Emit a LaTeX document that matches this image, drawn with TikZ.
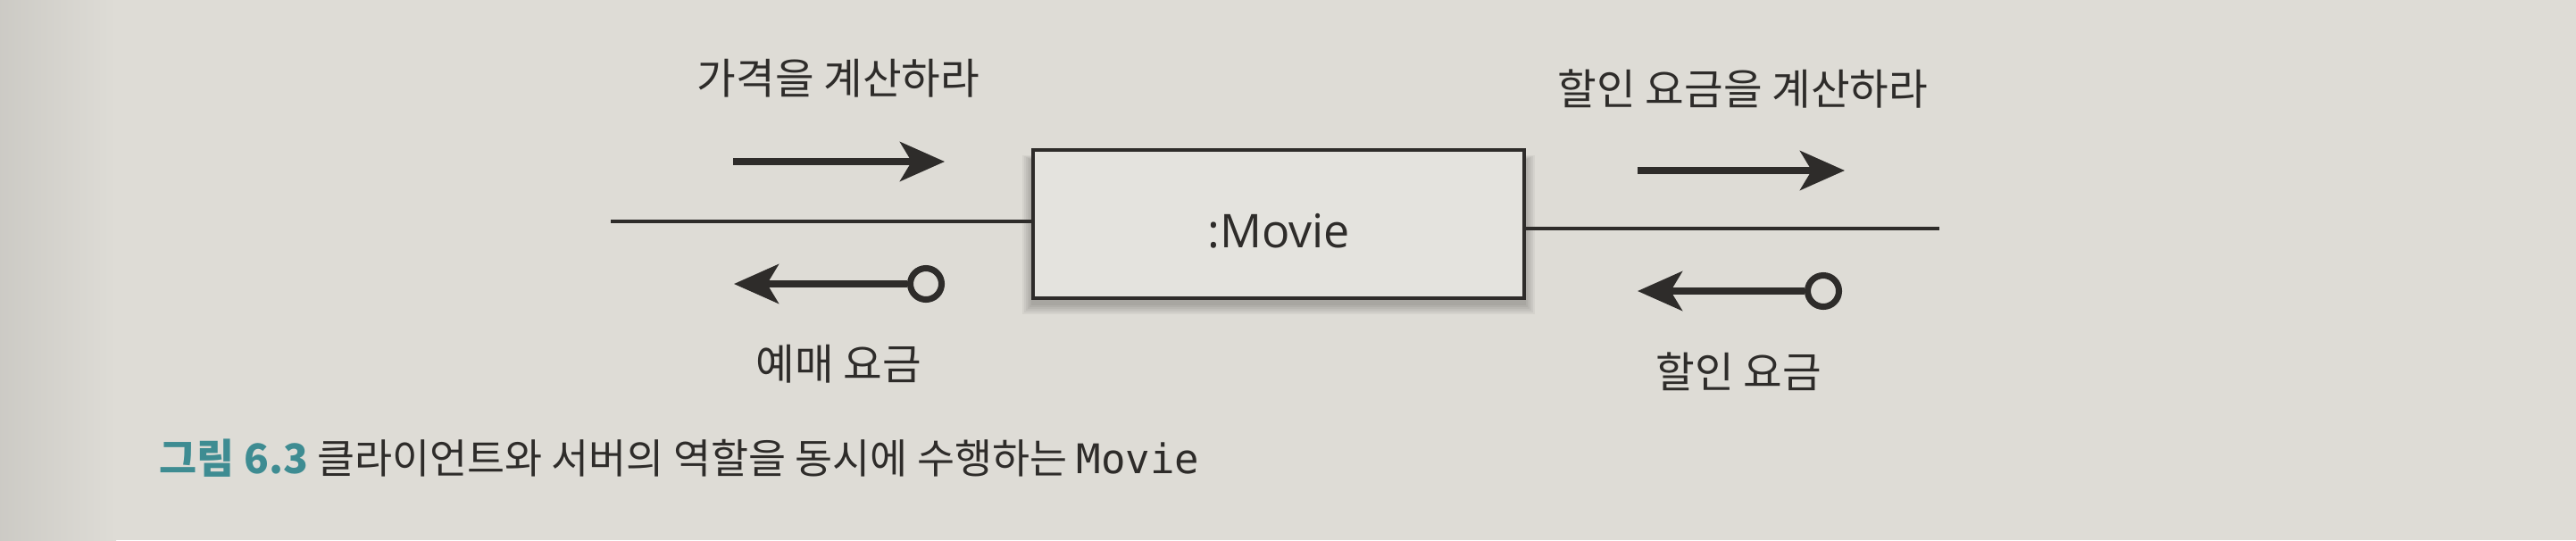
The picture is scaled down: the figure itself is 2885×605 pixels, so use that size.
\documentclass[tikz,border=0pt]{standalone}
\usepackage{fontspec}
\setmainfont{Noto Sans CJK KR}
\newfontfamily\krfont{Noto Sans CJK KR}
\newfontfamily\latfont{Open Sans}
\newfontfamily\codefont{DejaVu Sans Mono}
\usetikzlibrary{arrows.meta}
\definecolor{paper}{RGB}{222,220,214}
\definecolor{boxfill}{RGB}{228,227,222}
\definecolor{ink}{RGB}{46,44,42}
\definecolor{captionteal}{RGB}{62,140,146}
\tikzset{
  msg/.style={draw=ink, line width=2pt, -{Stealth[length=5mm,width=4.4mm,inset=1.3mm]}},
  lifeline/.style={draw=ink, line width=1.3pt},
  lbl/.style={font=\krfont\fontsize{13.5pt}{16pt}\selectfont, text=ink, inner sep=0pt},
  retcircle/.style={circle, draw=ink, line width=2pt, fill=paper, minimum size=0.35cm, inner sep=0pt},
  objbox/.style={draw=ink, line width=1.3pt, fill=boxfill, minimum width=5.5cm, minimum height=1.66cm, inner sep=0pt},
  objname/.style={font=\latfont\fontsize{14.8pt}{17pt}\selectfont, text=ink, inner sep=0pt},
  caption/.style={font=\krfont\fontsize{13pt}{16pt}\selectfont, text=ink, inner sep=0pt, anchor=west}
}
\begin{document}
\begin{tikzpicture}[x=0.01cm,y=-0.01cm]
\useasboundingbox (0,0) rectangle (2885,605);
\fill[paper] (0,0) rectangle (2885,605);
\shade[left color=black!8!paper, right color=paper] (0,0) rectangle (130,605);
% shadow of the object box
\foreach \i in {1,...,6}{
  \fill[black, opacity=0.045] (1157-2*\i,172-\i+8) rectangle (1707+2*\i,334+2*\i+6);
}
\node[objbox] (movie) at (1432,251) {};
\node[objname] (movielabel) at (1432,259) {:Movie};
% lifelines
\coordinate (lend) at (684,248);
\coordinate (rend) at (2172,256);
\draw[lifeline] (lend) -- (lend -| movie.west);
\draw[lifeline] (rend -| movie.east) -- (rend);
% left messages
\coordinate (a1s) at (821,181);
\coordinate (a1e) at (1058,181);
\draw[msg] (a1s) -- (a1e);
\node[retcircle] (r1) at (1037,318) {};
\coordinate (r1e) at (822,318);
\draw[msg] (r1) -- (r1e);
% right messages
\coordinate (a2s) at (1834,191);
\coordinate (a2e) at (2066,191);
\draw[msg] (a2s) -- (a2e);
\node[retcircle] (r2) at (2042,326) {};
\coordinate (r2e) at (1834,326);
\draw[msg] (r2) -- (r2e);
% labels
\node[lbl] (t1) at (939,88) {가격을 계산하라};
\node[lbl] (t2) at (1952,100) {할인 요금을 계산하라};
\node[lbl] (t3) at (939,408) {예매 요금};
\node[lbl] (t4) at (1947,416) {할인 요금};
% caption
\node[caption] (cap) at (178,513) {{\color{captionteal}\bfseries 그림 6.3} 클라이언트와 서버의 역할을 동시에 수행하는 {\codefont Movie}};
\end{tikzpicture}
\end{document}
